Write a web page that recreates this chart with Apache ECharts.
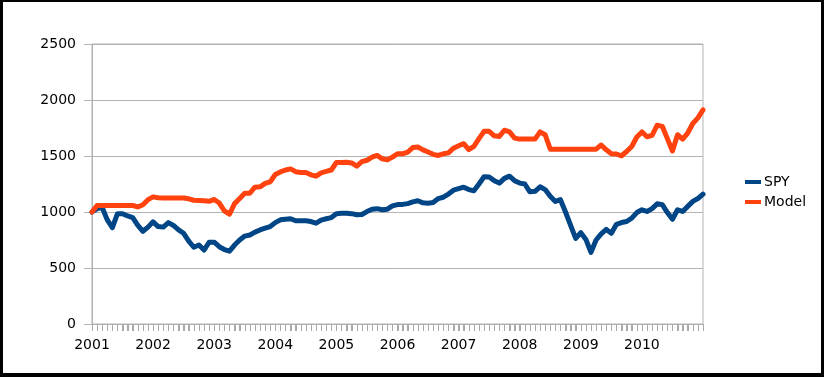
<!DOCTYPE html>
<html>
<head>
<meta charset="utf-8">
<script src="https://cdn.jsdelivr.net/npm/echarts@6/dist/echarts.min.js"></script>
<style>
html,body{margin:0;padding:0;background:#fff;}
#chart{position:absolute;left:0;top:0;width:824px;height:377px;}
#frame{position:absolute;left:0;top:0;width:824px;height:377px;box-sizing:border-box;border-style:solid;border-color:#000;border-width:2px 3px 4px 3px;pointer-events:none;}
</style>
</head>
<body>
<div id="chart"></div>
<div id="frame"></div>
<script>
// Year labels and months (categories are every month Jan 2001 .. Jan 2011)
var years = ['2001','2002','2003','2004','2005','2006','2007','2008','2009','2010','2011'];
var months = ['01','02','03','04','05','06','07','08','09','10','11','12'];
var yTicks = [0, 500, 1000, 1500, 2000, 2500];

var spy = [
 1000,1030,1040,930,860,985,985,965,950,880,828,865,
 912,870,865,905,880,840,810,740,685,705,660,730,
 730,690,665,650,705,750,785,795,820,840,855,870,
 905,930,935,940,922,922,922,915,900,928,940,950,
 985,988,989,985,975,978,1004,1025,1030,1020,1025,1055,
 1066,1068,1075,1090,1100,1082,1079,1085,1120,1132,1160,1195,
 1208,1222,1200,1190,1250,1315,1312,1280,1258,1300,1320,1280,
 1258,1250,1180,1185,1225,1200,1140,1094,1110,1000,880,765,
 815,755,640,750,805,845,810,890,906,915,945,995,
 1020,1005,1030,1073,1065,995,935,1020,1005,1050,1095,1120,
 1160
];
var model = [
 1000,1058,1058,1058,1058,1058,1058,1058,1058,1045,1065,1110,
 1135,1128,1125,1125,1125,1125,1125,1118,1105,1102,1100,1095,
 1112,1080,1010,980,1075,1120,1168,1168,1222,1225,1255,1270,
 1335,1358,1375,1385,1360,1353,1353,1332,1320,1350,1362,1375,
 1442,1442,1445,1438,1410,1450,1462,1490,1505,1475,1465,1490,
 1520,1520,1535,1575,1580,1555,1535,1515,1505,1520,1528,1570,
 1591,1610,1556,1585,1655,1720,1720,1680,1675,1730,1715,1660,
 1651,1651,1651,1651,1715,1690,1561,1561,1561,1561,1561,1561,
 1561,1561,1561,1561,1598,1555,1520,1518,1502,1540,1585,1670,
 1715,1672,1685,1775,1765,1655,1545,1690,1650,1705,1790,1840,
 1912
];

var categories = [];
years.forEach(function(y){
  months.forEach(function(m){
    if (categories.length < spy.length) categories.push(y + '-' + m);
  });
});

var FONT = 'DejaVu Sans';
var chart = echarts.init(document.getElementById('chart'), null, {renderer:'canvas'});
chart.setOption({
  animation: false,
  backgroundColor: '#ffffff',
  grid: {left: 92, right: 121, top: 44, bottom: 53, show: true, borderColor: '#b3b3b3', borderWidth: 1, backgroundColor: 'transparent'},
  legend: {
    orient: 'vertical', left: 740, top: 170, itemGap: 6,
    itemWidth: 16, itemHeight: 4, icon: 'rect',
    textStyle: {fontFamily: FONT, fontSize: 14, color: '#000', padding: [0,0,0,-2]},
    data: ['SPY', 'Model']
  },
  xAxis: {
    type: 'category', boundaryGap: false, data: categories,
    axisLine: {show: true, lineStyle: {color: '#b3b3b3', width: 1}},
    axisTick: {show: true, interval: 0, length: 7, lineStyle: {color: '#aaaaaa', width: 1}},
    axisLabel: {
      show: true,
      interval: function(i){ return i % 12 === 0 && i < 120; },
      formatter: function(v){ return v.slice(0,4); },
      fontFamily: FONT, fontSize: 14, color: '#000', margin: 14
    },
    splitLine: {show: false}
  },
  yAxis: {
    type: 'value', min: yTicks[0], max: yTicks[yTicks.length-1], interval: 500,
    axisLine: {show: true, lineStyle: {color: '#b3b3b3', width: 1}},
    axisTick: {show: true, length: 8, lineStyle: {color: '#b3b3b3'}},
    axisLabel: {fontFamily: FONT, fontSize: 14, color: '#000', margin: 16,
      formatter: function(v){ return String(v); }},
    splitLine: {show: true, lineStyle: {color: '#b3b3b3', width: 1}}
  },
  series: [
    {name: 'ticks', type: 'custom', clip: false, silent: true, z: 1,
     data: categories.map(function(c, i){ return [i, 0]; }),
     renderItem: function(params, api){
       var p = api.coord([api.value(0), 0]);
       var x = Math.round(p[0]) + 0.5;
       return {type: 'line', shape: {x1: x, y1: p[1], x2: x, y2: p[1] + 7},
               style: {stroke: '#aaaaaa', lineWidth: 1}};
     }},
    {name: 'SPY', type: 'line', data: spy, symbol: 'none', smooth: false, z: 3,
     itemStyle: {color: '#004586'}, lineStyle: {color: '#004586', width: 5, cap: 'round', join: 'round'}},
    {name: 'Model', type: 'line', data: model, symbol: 'none', smooth: false, z: 3,
     itemStyle: {color: '#ff420e'}, lineStyle: {color: '#ff420e', width: 5, cap: 'round', join: 'round'}}
  ]
});
</script>
</body>
</html>
